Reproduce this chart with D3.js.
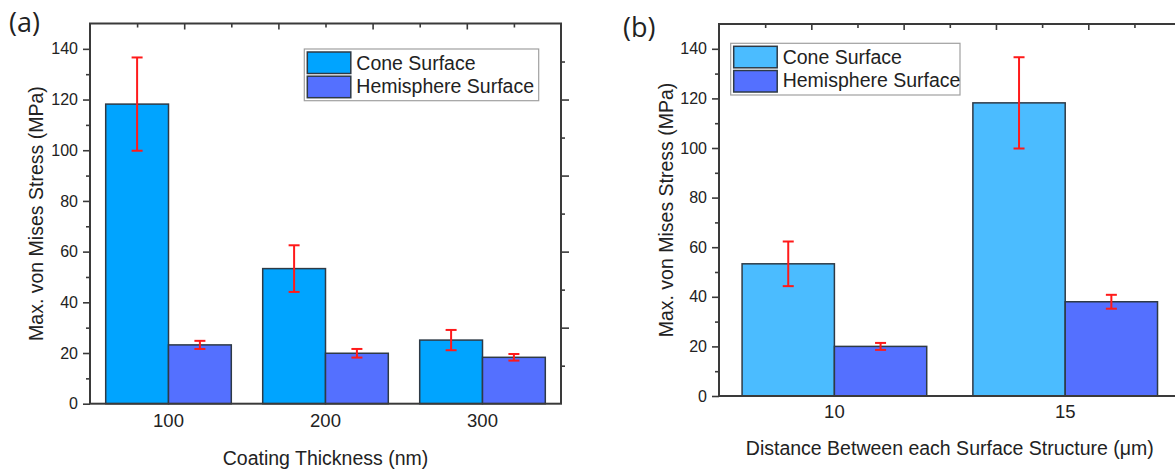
<!DOCTYPE html>
<html>
<head>
<meta charset="utf-8">
<script src="https://cdn.jsdelivr.net/npm/d3@7"></script>
<style>
  html, body { margin: 0; padding: 0; background: #fff; }
  svg { display: block; }
  text { font-family: "Liberation Sans", Arial, sans-serif; fill: #222; }
</style>
</head>
<body>
<svg id="chart" width="1175" height="470"></svg>
<script>
// ---- data ----
const seriesNames = ["Cone Surface", "Hemisphere Surface"];

// (a) coating thickness
const thicknessCategories = ["100", "200", "300"];
const thicknessCone = [118.2, 53.3, 25.1];
const thicknessConeErr = [18.4, 9.2, 4.0];
const thicknessHemi = [23.2, 19.9, 18.3];
const thicknessHemiErr = [1.6, 1.7, 1.3];

// (b) distance between structures
const distanceCategories = ["10", "15"];
const distanceCone = [53.3, 118.2];
const distanceConeErr = [9.0, 18.4];
const distanceHemi = [20.0, 38.0];
const distanceHemiErr = [1.4, 2.8];

const yTickValues = [0, 20, 40, 60, 80, 100, 120, 140];

const svg = d3.select("#chart");
const axisColor = "#3a3a3a";
const barStroke = "#2e3a46";

function drawPanel(cfg) {
  const { left, right, top, bottom, cats, cone, coneErr, hemi, hemiErr, colors } = cfg;
  const g = svg.append("g");

  const x = d3.scaleBand().domain(cats).range([left, right])
    .paddingInner(0.2).paddingOuter(0.1);
  const sub = d3.scaleBand().domain([0, 1]).range([0, x.bandwidth()]);
  const y = d3.scaleLinear().domain([0, 150]).range([bottom, top]);

  // bars
  const rows = cats.map((c, i) => ({ c, vals: [cone[i], hemi[i]], errs: [coneErr[i], hemiErr[i]] }));
  const groups = g.selectAll("g.cat").data(rows).join("g")
    .attr("transform", d => `translate(${x(d.c)},0)`);
  groups.selectAll("rect").data(d => d.vals.map((v, k) => ({ v, k })))
    .join("rect")
    .attr("x", d => sub(d.k))
    .attr("width", sub.bandwidth())
    .attr("y", d => y(d.v))
    .attr("height", d => y(0) - y(d.v))
    .attr("fill", d => colors[d.k])
    .attr("stroke", barStroke)
    .attr("stroke-width", 1.5);

  // error bars
  const eb = groups.selectAll("g.err").data(d => d.vals.map((v, k) => ({ v, k, e: d.errs[k] })))
    .join("g").attr("class", "err")
    .attr("stroke", "#ff1a1a").attr("stroke-width", 2);
  const cx = d => sub(d.k) + sub.bandwidth() / 2;
  eb.append("line").attr("x1", cx).attr("x2", cx)
    .attr("y1", d => y(d.v + d.e)).attr("y2", d => y(d.v - d.e));
  eb.append("line").attr("x1", d => cx(d) - 5.5).attr("x2", d => cx(d) + 5.5)
    .attr("y1", d => y(d.v + d.e)).attr("y2", d => y(d.v + d.e));
  eb.append("line").attr("x1", d => cx(d) - 5.5).attr("x2", d => cx(d) + 5.5)
    .attr("y1", d => y(d.v - d.e)).attr("y2", d => y(d.v - d.e));

  // left axis: major ticks with labels, minor ticks between
  g.append("g").attr("transform", `translate(${left},0)`)
    .call(d3.axisLeft(y).tickValues(d3.range(10, 150, 20)).tickSize(4).tickFormat(""));
  const leftAxis = g.append("g").attr("transform", `translate(${left},0)`)
    .call(d3.axisLeft(y).tickValues(yTickValues).tickSize(7).tickPadding(5));
  leftAxis.selectAll("text").style("font-size", "16px").attr("fill", "#222");

  // right axis (inward ticks)
  const yr = d3.scaleLinear().domain([0, 150]).range([bottom, top]);
  g.append("g").attr("transform", `translate(${right},0)`)
    .call(d3.axisLeft(yr).tickValues(d3.range(15, 150, 30)).tickSize(-4).tickFormat(""));
  g.append("g").attr("transform", `translate(${right},0)`)
    .call(d3.axisLeft(yr).tickValues(d3.range(30, 150, 30)).tickSize(-8).tickFormat(""));

  // top axis (inward ticks, ten divisions)
  const xt = d3.scaleLinear().domain([0, 10]).range([left, right]);
  g.append("g").attr("transform", `translate(0,${top})`)
    .call(d3.axisTop(xt).tickValues([1, 3, 5, 7, 9]).tickSize(-4).tickFormat(""));
  g.append("g").attr("transform", `translate(0,${top})`)
    .call(d3.axisTop(xt).tickValues([2, 4, 6, 8]).tickSize(-6).tickFormat(""));

  // bottom axis: labels only
  const bottomAxis = g.append("g").attr("transform", `translate(0,${bottom})`)
    .call(d3.axisBottom(x).tickSize(0).tickPadding(cfg.xLabelPad));
  bottomAxis.selectAll("text").style("font-size", "18.5px").attr("fill", "#222");

  g.selectAll(".domain").remove();
  g.selectAll(".tick line").attr("stroke", axisColor).attr("stroke-width", 1.6);

  // frame
  g.append("rect").attr("x", left).attr("y", top)
    .attr("width", right - left).attr("height", bottom - top)
    .attr("fill", "none").attr("stroke", axisColor).attr("stroke-width", 2);

  // axis titles
  g.append("text")
    .attr("transform", `translate(${cfg.yTitleX},${(top + bottom) / 2}) rotate(-90)`)
    .attr("text-anchor", "middle").style("font-size", "19.5px")
    .text("Max. von Mises Stress (MPa)");
  g.append("text").attr("x", (left + right) / 2).attr("y", cfg.xTitleY)
    .attr("text-anchor", "middle").style("font-size", "19.5px")
    .text(cfg.xTitle);

  // legend
  const L = cfg.legend;
  const lg = g.append("g");
  lg.append("rect").attr("x", L.x).attr("y", L.y).attr("width", L.w).attr("height", L.h)
    .attr("fill", "#fff").attr("stroke", "#a0a0a0").attr("stroke-width", 1.2);
  seriesNames.forEach((name, k) => {
    lg.append("rect").attr("x", L.x + 3).attr("y", L.y + 3 + k * 24.2)
      .attr("width", 43.5).attr("height", 21.5)
      .attr("fill", colors[k]).attr("stroke", barStroke).attr("stroke-width", 1.5);
    lg.append("text").attr("x", L.x + 52).attr("y", L.y + 21 + k * 22.5)
      .style("font-size", "19.5px").text(name);
  });

  // panel tag
  svg.append("text").attr("x", cfg.tagX).attr("y", cfg.tagY)
    .style("font-family", "'Open Sans', sans-serif").style("font-size", "27px")
    .attr("fill", "#111").text(cfg.tag);
}

drawPanel({
  left: 90, right: 561, top: 23.5, bottom: 403.7,
  cats: thicknessCategories, cone: thicknessCone, coneErr: thicknessConeErr,
  hemi: thicknessHemi, hemiErr: thicknessHemiErr,
  colors: ["#00a4ff", "#5470ff"],
  xLabelPad: 10, xTitle: "Coating Thickness (nm)", xTitleY: 465, yTitleX: 43,
  legend: { x: 304.3, y: 49, w: 234.4, h: 51.7 },
  tag: "(a)", tagX: 9, tagY: 32
});

drawPanel({
  left: 719, right: 1180.6, top: 24, bottom: 396,
  cats: distanceCategories, cone: distanceCone, coneErr: distanceConeErr,
  hemi: distanceHemi, hemiErr: distanceHemiErr,
  colors: ["#4bbcff", "#5470ff"],
  xLabelPad: 9, xTitle: "Distance Between each Surface Structure (\u03bcm)", xTitleY: 455, yTitleX: 673,
  legend: { x: 730.7, y: 43.3, w: 229.3, h: 51.7 },
  tag: "(b)", tagX: 623, tagY: 37
});
</script>
</body>
</html>
